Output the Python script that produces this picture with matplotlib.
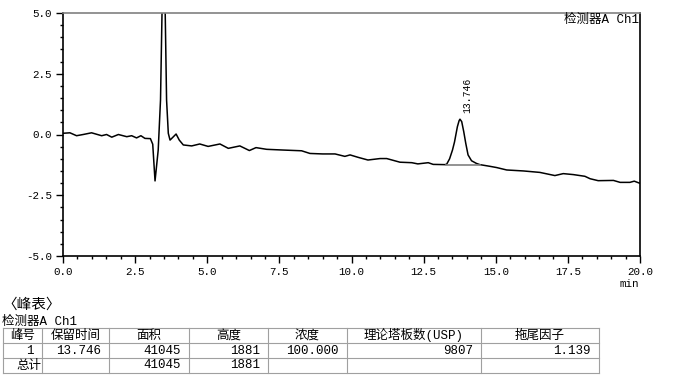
import matplotlib
matplotlib.use('Agg')
import matplotlib.pyplot as plt
from matplotlib.ticker import MultipleLocator

plt.rcParams['font.family'] = ['Liberation Mono', 'Noto Sans CJK SC']
plt.rcParams['axes.unicode_minus'] = False

# chromatogram trace (min, signal)
time = [0.00, 0.24, 0.47, 0.70, 0.99, 1.34, 1.51, 1.69, 1.92, 2.21, 2.38, 2.55,
        2.70, 2.84, 3.03, 3.11, 3.19, 3.30, 3.38, 3.49, 3.59, 3.65, 3.71, 3.82,
        3.92, 4.03, 4.17, 4.46, 4.74, 5.03, 5.44, 5.73, 6.13, 6.46, 6.69, 7.06,
        7.64, 8.27, 8.56, 9.00, 9.43, 9.77, 9.95, 10.23, 10.57, 10.99, 11.22,
        11.68, 12.09, 12.30, 12.66, 12.83, 13.24, 13.30, 13.40, 13.50, 13.57,
        13.67, 13.73, 13.76, 13.82, 13.89, 13.96, 14.04, 14.16, 14.33, 14.45,
        14.80, 15.03, 15.38, 15.96, 16.53, 17.05, 17.34, 17.69, 18.09, 18.27,
        18.55, 19.08, 19.31, 19.65, 19.80, 20.00]
signal = [0.05, 0.07, -0.05, 0.00, 0.07, -0.05, 0.00, -0.11, 0.00, -0.09, -0.05, -0.14,
          -0.05, -0.16, -0.17, -0.40, -1.91, -0.64, 1.42, 9.00, 1.42, 0.05, -0.23, -0.10,
          0.02, -0.23, -0.43, -0.47, -0.39, -0.49, -0.39, -0.57, -0.47, -0.66, -0.54, -0.61,
          -0.64, -0.67, -0.78, -0.80, -0.80, -0.90, -0.84, -0.94, -1.05, -0.99, -0.99,
          -1.14, -1.16, -1.21, -1.16, -1.23, -1.24, -1.22, -1.00, -0.64, -0.31,
          0.32, 0.57, 0.63, 0.53, 0.12, -0.36, -0.84, -1.08, -1.19, -1.24,
          -1.31, -1.36, -1.46, -1.50, -1.56, -1.69, -1.61, -1.65, -1.72, -1.82,
          -1.90, -1.89, -1.97, -1.97, -1.92, -2.01]

baseline_t = [13.27, 14.45]
baseline_y = [-1.24, -1.24]
peak_rt = 13.746
peak_top = 0.63

# peak table
headers = ['峰号', '保留时间', '面积', '高度', '浓度', '理论塔板数(USP)', '拖尾因子']
peak_row = ['1', '13.746', '41045', '1881', '100.000', '9807', '1.139']
total_row = ['总计', '', '41045', '1881', '', '', '']

fig = plt.figure(figsize=(6.73, 3.8), dpi=100)

# table drawn in pixel coords on an overlay axes
tb = fig.add_axes([0, 0, 1, 1])
tb.set_xlim(0, 673)
tb.set_ylim(380, 0)
tb.axis('off')

ax = fig.add_axes([63/673, 1-256/380, 577/673, 243/380])
ax.plot(time, signal, color='black', lw=1.1)
ax.plot(baseline_t, baseline_y, color='#808080', lw=1.2)
ax.text(peak_rt + 0.25, peak_top + 0.25, '%.3f' % peak_rt, rotation=90,
        ha='center', va='bottom', fontsize=7)
ax.text(0.998, 0.997, '检测器A Ch1', transform=ax.transAxes, ha='right', va='top',
        fontsize=9)

ax.set_xlim(0, 20)
ax.set_ylim(-5, 5)
ax.set_xticks([0, 2.5, 5, 7.5, 10, 12.5, 15, 17.5, 20])
ax.set_yticks([-5, -2.5, 0, 2.5, 5])
ax.xaxis.set_minor_locator(MultipleLocator(0.5))
ax.yaxis.set_minor_locator(MultipleLocator(0.5))
ax.xaxis.set_major_formatter(plt.FormatStrFormatter('%.1f'))
ax.yaxis.set_major_formatter(plt.FormatStrFormatter('%.1f'))
ax.tick_params(which='major', direction='out', length=5, width=1, labelsize=7.8)
ax.tick_params(axis='x', which='major', pad=3)
ax.tick_params(axis='y', which='major', pad=3)
ax.tick_params(which='minor', direction='out', length=2.5, width=1)
for s in ['left', 'bottom', 'right']:
    ax.spines[s].set_linewidth(1.2)
ax.spines['top'].set_color('#808080')
ax.spines['top'].set_linewidth(1.2)

tb.text(639, 279, 'min', ha='right', va='top', fontsize=7.8)

tb.text(2, 305, '〈峰表〉', ha='left', va='center', fontsize=10.5)
tb.text(2, 322, '检测器A Ch1', ha='left', va='center', fontsize=9)

col_edges = [3, 42, 109, 189, 268, 347, 481, 599]
row_edges = [328, 343, 358, 373]
for y in row_edges:
    tb.plot([col_edges[0], col_edges[-1]], [y, y], color='#a0a0a0', lw=0.8)
for x in col_edges:
    tb.plot([x, x], [row_edges[0], row_edges[-1]], color='#a0a0a0', lw=0.8)

for i, h in enumerate(headers):
    tb.text((col_edges[i] + col_edges[i+1]) / 2, (row_edges[0] + row_edges[1]) / 2, h,
            ha='center', va='center', fontsize=9)
for r, row in enumerate([peak_row, total_row]):
    yc = (row_edges[r+1] + row_edges[r+2]) / 2
    for i, v in enumerate(row):
        pad = 1 if v == '总计' else 8
        tb.text(col_edges[i+1] - pad, yc, v, ha='right', va='center', fontsize=9)

fig.savefig('out.png', dpi=100)
